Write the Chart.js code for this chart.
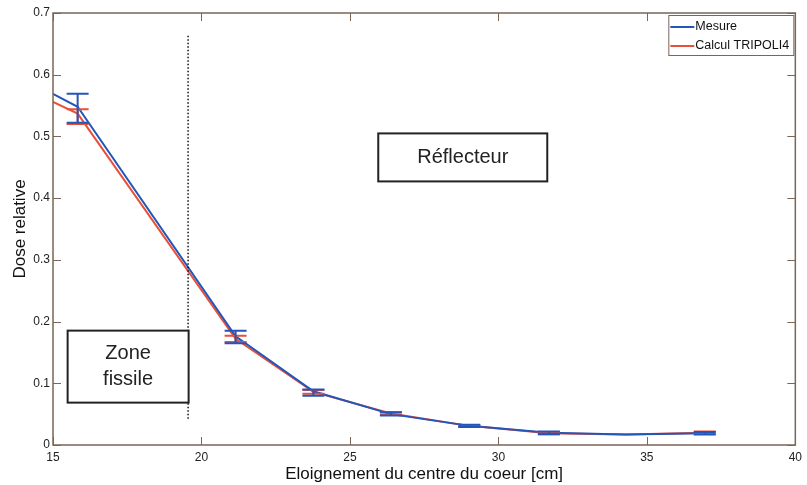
<!DOCTYPE html>
<html lang="fr">
<head>
  <meta charset="UTF-8">
  <title>Dose relative</title>
  <script src="https://cdn.jsdelivr.net/npm/chart.js"></script>
  <style>
    body { margin: 0; background: #fff; }
    #wrap { width: 807px; height: 485px; }
  </style>
</head>
<body>
  <div id="wrap"><canvas id="c" width="807" height="485"></canvas></div>
  <script>
    // abscisses des points (cm)
    const xPos = [15, 15.83, 21.15, 23.77, 26.38, 29.02, 31.7, 34.3, 36.95, 37.2];
    // mesure
    const mesure = [0.569, 0.548, 0.176, 0.087, 0.050, 0.031, 0.020, 0.017, 0.019, 0.020];
    const mesureLow = [null, 0.522, 0.165, 0.080, 0.048, 0.029, 0.018, null, 0.017, null];
    const mesureHigh = [null, 0.569, 0.185, 0.090, 0.053, 0.033, 0.022, null, 0.021, null];
    // calcul TRIPOLI4
    const calcul = [0.556, 0.537, 0.172, 0.086, 0.051, 0.031, 0.019, 0.017, 0.020, 0.021];
    const calculLow = [null, 0.520, 0.167, 0.083, 0.049, 0.029, 0.017, null, 0.018, null];
    const calculHigh = [null, 0.544, 0.177, 0.089, 0.053, 0.032, 0.021, null, 0.022, null];

    const xTicks = [15, 20, 25, 30, 35, 40];
    const yTicks = [0, 0.1, 0.2, 0.3, 0.4, 0.5, 0.6, 0.7];

    const BLUE = '#2455b8';
    const RED = '#e8503a';
    const AXIS = '#7a6558';
    const FONT = '"Liberation Sans", Arial, sans-serif';

    const pts = (ys) => xPos.map((x, i) => ({ x: x, y: ys[i] }));

    // décor : barres d'erreur, cadre, graduations internes, zones, légende
    const decor = {
      id: 'decor',
      afterDatasetsDraw(chart) {
        const ctx = chart.ctx;
        const xs = chart.scales.x, ys = chart.scales.y;
        const a = chart.chartArea;
        ctx.save();

        // barres d'erreur
        const bars = (lo, hi, color) => {
          ctx.strokeStyle = color;
          ctx.lineWidth = 2;
          xPos.forEach((x, i) => {
            if (lo[i] == null) return;
            const px = xs.getPixelForValue(x);
            const y1 = ys.getPixelForValue(lo[i]);
            const y2 = ys.getPixelForValue(hi[i]);
            ctx.beginPath();
            ctx.moveTo(px, y1); ctx.lineTo(px, y2);
            ctx.moveTo(px - 11, y1); ctx.lineTo(px + 11, y1);
            ctx.moveTo(px - 11, y2); ctx.lineTo(px + 11, y2);
            ctx.stroke();
          });
        };
        bars(calculLow, calculHigh, RED);
        bars(mesureLow, mesureHigh, BLUE);

        // limite de la zone fissile
        const xl = xs.getPixelForValue(19.55);
        ctx.strokeStyle = '#111';
        ctx.lineWidth = 1.5;
        ctx.setLineDash([1.5, 2]);
        ctx.beginPath();
        ctx.moveTo(xl, ys.getPixelForValue(0.663));
        ctx.lineTo(xl, ys.getPixelForValue(0.04));
        ctx.stroke();
        ctx.setLineDash([]);

        // étiquettes encadrées
        const boxed = (cx, cy, w, h, lines) => {
          const px = xs.getPixelForValue(cx), py = ys.getPixelForValue(cy);
          ctx.fillStyle = '#fff';
          ctx.fillRect(px - w / 2, py - h / 2, w, h);
          ctx.strokeStyle = '#222';
          ctx.lineWidth = 2;
          ctx.strokeRect(px - w / 2, py - h / 2, w, h);
          ctx.fillStyle = '#222';
          ctx.font = '20px ' + FONT;
          ctx.textAlign = 'center';
          ctx.textBaseline = 'middle';
          const lh = 26;
          lines.forEach((t, k) => {
            ctx.fillText(t, px, py + (k - (lines.length - 1) / 2) * lh);
          });
        };
        boxed(28.8, 0.466, 169, 48, ['Réflecteur']);
        boxed(17.53, 0.127, 121, 72, ['Zone', 'fissile']);

        // cadre et graduations vers l'intérieur
        ctx.strokeStyle = AXIS;
        ctx.lineWidth = 1.5;
        ctx.strokeRect(a.left, a.top, a.right - a.left, a.bottom - a.top);
        ctx.lineWidth = 1;
        ctx.beginPath();
        xTicks.forEach(v => {
          const px = Math.round(xs.getPixelForValue(v)) + 0.5;
          ctx.moveTo(px, a.bottom); ctx.lineTo(px, a.bottom - 8);
          ctx.moveTo(px, a.top); ctx.lineTo(px, a.top + 8);
        });
        yTicks.forEach(v => {
          const py = Math.round(ys.getPixelForValue(v)) + 0.5;
          ctx.moveTo(a.left, py); ctx.lineTo(a.left + 8, py);
          ctx.moveTo(a.right, py); ctx.lineTo(a.right - 8, py);
        });
        ctx.stroke();

        // légende
        const lx = a.right - 127, ly = a.top + 2, lw = 125, lh = 40;
        ctx.fillStyle = '#fff';
        ctx.fillRect(lx, ly, lw, lh);
        ctx.strokeStyle = AXIS;
        ctx.lineWidth = 1;
        ctx.strokeRect(lx + 0.5, ly + 0.5, lw, lh);
        ctx.font = '12.5px ' + FONT;
        ctx.textAlign = 'left';
        ctx.textBaseline = 'middle';
        chart.data.datasets.forEach((ds, k) => {
          const yy = ly + 12 + k * 19;
          ctx.strokeStyle = ds.borderColor;
          ctx.lineWidth = 2;
          ctx.beginPath();
          ctx.moveTo(lx + 2, yy); ctx.lineTo(lx + 26, yy);
          ctx.stroke();
          ctx.fillStyle = '#111';
          ctx.fillText(ds.label, lx + 27, yy);
        });

        ctx.restore();
      }
    };

    new Chart(document.getElementById('c'), {
      type: 'line',
      data: {
        datasets: [
          { label: 'Mesure', data: pts(mesure), borderColor: BLUE, borderWidth: 2, pointRadius: 0, tension: 0 },
          { label: 'Calcul TRIPOLI4', data: pts(calcul), borderColor: RED, borderWidth: 2, pointRadius: 0, tension: 0 }
        ]
      },
      options: {
        responsive: false,
        animation: false,
        devicePixelRatio: 1,
        layout: { padding: { top: 13, right: 8, left: 0, bottom: 0 } },
        plugins: { legend: { display: false }, tooltip: { enabled: false } },
        scales: {
          x: {
            type: 'linear', min: 15, max: 40,
            grid: { display: false, drawTicks: false },
            border: { display: false },
            afterBuildTicks: s => { s.ticks = xTicks.map(v => ({ value: v })); },
            afterFit: s => { s.height = 40; },
            ticks: { padding: 5, color: '#222', font: { family: FONT, size: 12 } },
            title: { display: true, text: 'Eloignement du centre du coeur [cm]', color: '#111',
                     font: { family: FONT, size: 17 }, padding: { top: 0, bottom: 0 } }
          },
          y: {
            min: 0, max: 0.7,
            grid: { display: false, drawTicks: false },
            border: { display: false },
            afterBuildTicks: s => { s.ticks = yTicks.map(v => ({ value: v })); },
            afterFit: s => { s.width = 53; },
            ticks: { padding: 3, color: '#222', font: { family: FONT, size: 12 },
                     callback: v => (v === 0 ? '0' : v.toFixed(1)) },
            title: { display: true, text: 'Dose relative', color: '#111',
                     font: { family: FONT, size: 17 }, padding: { top: 10, bottom: 0 } }
          }
        }
      },
      plugins: [decor]
    });
  </script>
</body>
</html>
